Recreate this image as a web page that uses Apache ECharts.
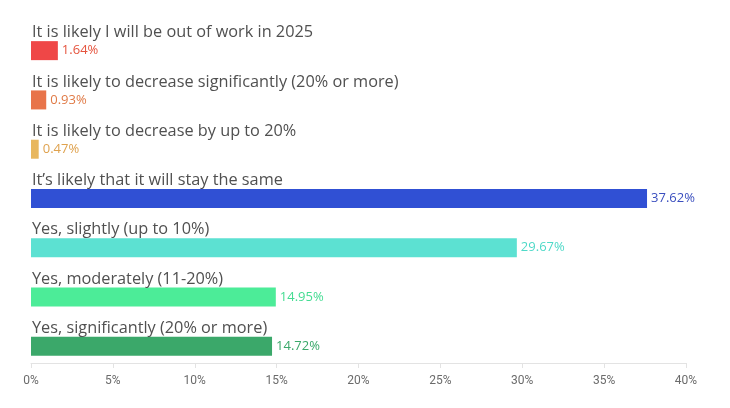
<!DOCTYPE html>
<html>
<head>
<meta charset="utf-8">
<script src="https://cdn.jsdelivr.net/npm/echarts@6/dist/echarts.min.js"></script>
<style>html,body{margin:0;padding:0;background:#fff;}#c{width:730px;height:408px;}</style>
</head>
<body>
<div id="c"></div>
<script>
const categories = [
  "It is likely I will be out of work in 2025",
  "It is likely to decrease significantly (20% or more)",
  "It is likely to decrease by up to 20%",
  "It\u2019s likely that it will stay the same",
  "Yes, slightly (up to 10%)",
  "Yes, moderately (11-20%)",
  "Yes, significantly (20% or more)"
];
const values = [1.64, 0.93, 0.47, 37.62, 29.67, 14.95, 14.72];
const barColors = ["#EF4747", "#E8744A", "#E8B75E", "#3050D4", "#5CE1D2", "#4CEC98", "#3BA86A"];
const labelColors = ["#E5543E", "#E07A46", "#DFA24E", "#3B4FBF", "#4FD9C8", "#44DC92", "#3BA86A"];
const xTicks = [0, 5, 10, 15, 20, 25, 30, 35, 40];

const chart = echarts.init(document.getElementById('c'));
chart.setOption({
  animation: false,
  backgroundColor: '#fff',
  grid: { left: 31, right: 44, top: 26, bottom: 37, containLabel: false },
  xAxis: {
    type: 'value',
    min: xTicks[0],
    max: xTicks[xTicks.length - 1],
    interval: 5,
    offset: -8,
    axisLine: { show: true, lineStyle: { color: '#e3e3e3' } },
    axisTick: { show: true, length: 5, lineStyle: { color: '#e3e3e3' } },
    splitLine: { show: false },
    axisLabel: { color: '#6b6b6b', fontSize: 12, fontFamily: 'Roboto', margin: 12, formatter: v => v + '%' }
  },
  yAxis: {
    type: 'category',
    data: categories,
    inverse: true,
    axisLine: { show: false },
    axisTick: { show: false },
    axisLabel: { show: false }
  },
  series: [{
    type: 'bar',
    data: values.map((v, i) => ({ value: v, itemStyle: { color: barColors[i] }, label: { color: labelColors[i] } })),
    barWidth: 19,
    label: {
      show: true,
      position: 'right',
      distance: 4,
      fontSize: 13,
      fontFamily: 'Open Sans',
      formatter: p => p.value.toFixed(2) + '%'
    }
  }, {
    type: 'scatter',
    symbolSize: 0,
    silent: true,
    z: 5,
    itemStyle: { opacity: 1 },
    data: categories.map((c, i) => [0, c]),
    label: {
      show: true,
      position: 'right',
      distance: 1,
      offset: [0, -18],
      color: '#505050',
      opacity: 1,
      fontSize: 16.3,
      fontFamily: 'Open Sans',
      formatter: p => p.value[1]
    }
  }]
});
</script>
</body>
</html>
